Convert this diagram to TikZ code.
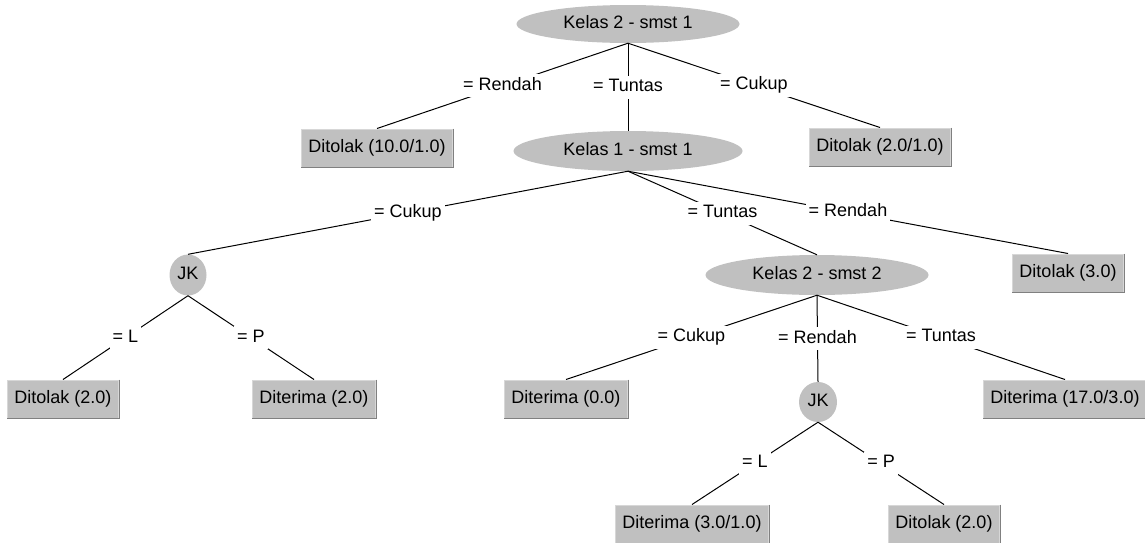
\documentclass[tikz,border=0pt]{standalone}
\usepackage{fontspec}
\setmainfont{Liberation Sans}
\usetikzlibrary{shapes.geometric}
\definecolor{nodegray}{RGB}{192,192,192}
\definecolor{rimlight}{RGB}{215,215,215}
\definecolor{rimdark}{RGB}{128,128,128}

\tikzset{
  attr/.style={ellipse, fill=nodegray, inner sep=0pt, minimum height=40,
    text height=13pt, text depth=4pt},
  leaf/.style={rectangle, fill=nodegray, draw=rimlight, line width=1pt,
    inner xsep=7pt, inner ysep=0pt, minimum height=38,
    text height=13pt, text depth=4pt,
    append after command={
      (\tikzlastnode.north east) edge[draw=rimdark, line width=1pt] (\tikzlastnode.south east)
      (\tikzlastnode.south east) edge[draw=rimdark, line width=1pt] (\tikzlastnode.south west)}},
  lbl/.style={fill=white, inner sep=3pt, text height=13pt, text depth=4pt},
  branch/.style={draw=black, line width=1pt}
}

\begin{document}
\begin{tikzpicture}[x=1pt, y=-1pt, font=\fontsize{18}{21}\selectfont]
  \useasboundingbox (0,0) rectangle (1145,542);
  % split nodes
  \node[attr, minimum width=223, minimum height=38] (k2s1) at (628,24) {Kelas 2 - smst 1};
  \node[attr, minimum width=229] (k1s1) at (628,151) {Kelas 1 - smst 1};
  \node[attr, minimum width=223] (k2s2) at (817,275) {Kelas 2 - smst 2};
  \node[attr, minimum width=37, minimum height=41] (jkA) at (188,275) {JK};
  \node[attr, minimum width=38] (jkB) at (818,402) {JK};
  % leaves
  \node[leaf] (tolakA) at (377,148) {Ditolak (10.0/1.0)};
  \node[leaf] (tolakB) at (880,147) {Ditolak (2.0/1.0)};
  \node[leaf] (tolakC) at (1068,273) {Ditolak (3.0)};
  \node[leaf] (tolakD) at (63,399) {Ditolak (2.0)};
  \node[leaf] (terimaA) at (314,399) {Diterima (2.0)};
  \node[leaf] (terimaB) at (566,399) {Diterima (0.0)};
  \node[leaf] (terimaC) at (1065,399) {Diterima (17.0/3.0)};
  \node[leaf] (terimaD) at (692,524) {Diterima (3.0/1.0)};
  \node[leaf] (tolakE) at (944,524) {Ditolak (2.0)};
  % branches
  \draw[branch] (k2s1.south) -- node[lbl] (eRendahA) {= Rendah} (tolakA.north);
  \draw[branch] (k2s1.south) -- node[lbl] (eTuntasA) {= Tuntas} (k1s1.north);
  \draw[branch] (k2s1.south) -- node[lbl] (eCukupA) {= Cukup} (tolakB.north);
  \draw[branch] (k1s1.south) -- node[lbl] (eCukupB) {= Cukup} (jkA.north);
  \draw[branch] (k1s1.south) -- node[lbl] (eTuntasB) {= Tuntas} (k2s2.north);
  \draw[branch] (k1s1.south) -- node[lbl] (eRendahB) {= Rendah} (tolakC.north);
  \draw[branch] (jkA.south) -- node[lbl] (eLA) {= L} (tolakD.north);
  \draw[branch] (jkA.south) -- node[lbl] (ePA) {= P} (terimaA.north);
  \draw[branch] (k2s2.south) -- node[lbl] (eCukupC) {= Cukup} (terimaB.north);
  \draw[branch] (k2s2.south) -- node[lbl] (eRendahC) {= Rendah} (jkB.north);
  \draw[branch] (k2s2.south) -- node[lbl] (eTuntasC) {= Tuntas} (terimaC.north);
  \draw[branch] (jkB.south) -- node[lbl] (eLB) {= L} (terimaD.north);
  \draw[branch] (jkB.south) -- node[lbl] (ePB) {= P} (tolakE.north);
\end{tikzpicture}
\end{document}
